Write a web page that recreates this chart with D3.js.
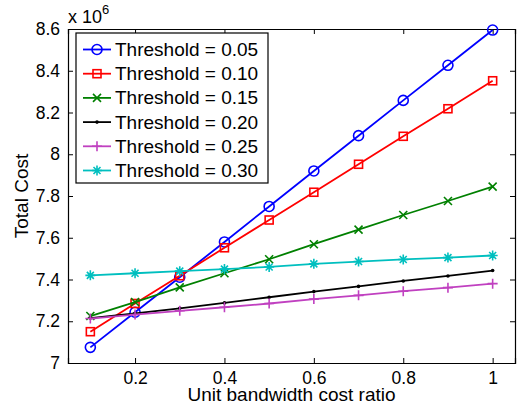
<!DOCTYPE html>
<html>
<head>
<meta charset="utf-8">
<script src="https://cdn.jsdelivr.net/npm/d3@7"></script>
<style>
  body { margin: 0; background: #fff; }
  text { font-family: "Liberation Sans", Arial, sans-serif; fill: #000; }
</style>
</head>
<body>
<div id="chart"></div>
<script>
// data (values in units of 10^6)
var ratios = [0.1, 0.2, 0.3, 0.4, 0.5, 0.6, 0.7, 0.8, 0.9, 1.0];
var thresholds = ["0.05", "0.10", "0.15", "0.20", "0.25", "0.30"];
var cost005 = [7.075, 7.243, 7.411, 7.580, 7.750, 7.920, 8.089, 8.258, 8.426, 8.595];
var cost010 = [7.150, 7.285, 7.418, 7.552, 7.685, 7.818, 7.952, 8.086, 8.218, 8.352];
var cost015 = [7.225, 7.292, 7.362, 7.430, 7.497, 7.569, 7.639, 7.709, 7.776, 7.845];
var cost020 = [7.215, 7.238, 7.262, 7.288, 7.315, 7.342, 7.367, 7.393, 7.417, 7.443];
var cost025 = [7.213, 7.232, 7.250, 7.267, 7.285, 7.306, 7.324, 7.344, 7.361, 7.380];
var cost030 = [7.420, 7.430, 7.440, 7.450, 7.460, 7.475, 7.486, 7.496, 7.505, 7.515];
var xTicks = [0.2, 0.4, 0.6, 0.8, 1];
var yTicks = [7, 7.2, 7.4, 7.6, 7.8, 8, 8.2, 8.4, 8.6];

var allSeries = [cost005, cost010, cost015, cost020, cost025, cost030];
var colors = ["#0000ff", "#ff0000", "#008000", "#000000", "#c040c0", "#00bfbf"];
var markers = ["circle", "square", "x", "dot", "plus", "star"];

var W = 524, H = 410;
var margin = {top: 29, right: 9, bottom: 47, left: 68};
var width = W - margin.left - margin.right;
var height = H - margin.top - margin.bottom;

var svg = d3.select("#chart").append("svg")
    .attr("width", W).attr("height", H);

var x = d3.scaleLinear().domain([0.05, 1.05]).range([0, width]);
var y = d3.scaleLinear().domain([7, 8.6]).range([height, 0]);

var g = svg.append("g")
    .attr("transform", "translate(" + margin.left + "," + margin.top + ")");

// axes with inward ticks, box on all sides
var tickFmt = d3.format("");
g.append("g")
    .attr("transform", "translate(0," + height + ")")
    .call(d3.axisBottom(x).tickValues(xTicks).tickSize(-5).tickPadding(8.5).tickFormat(tickFmt));
g.append("g")
    .call(d3.axisTop(x).tickValues(xTicks).tickSize(-5).tickFormat(""));
g.append("g")
    .call(d3.axisLeft(y).tickValues(yTicks).tickSize(-5).tickPadding(8).tickFormat(tickFmt));
g.append("g")
    .attr("transform", "translate(" + width + ",0)")
    .call(d3.axisRight(y).tickValues(yTicks).tickSize(-5).tickFormat(""));

g.selectAll(".domain").attr("stroke", "#000").attr("stroke-width", 1.2);
g.selectAll(".tick line").attr("stroke", "#000");
g.selectAll(".tick text").style("font-size", "17.5px").style("font-family", "Liberation Sans, Arial, sans-serif");

// multiplier
var mult = svg.append("text").attr("x", 68).attr("y", 23).style("font-size", "18px");
mult.append("tspan").text("x 10");
mult.append("tspan").attr("dy", -9).style("font-size", "13px").text("6");

// axis labels
svg.append("text")
    .attr("x", margin.left + width / 2).attr("y", 401)
    .attr("text-anchor", "middle").style("font-size", "19px")
    .text("Unit bandwidth cost ratio");
svg.append("text")
    .attr("transform", "translate(28," + (margin.top + height / 2) + ") rotate(-90)")
    .attr("text-anchor", "middle").style("font-size", "19px")
    .text("Total Cost");

function drawMarker(sel, type, color) {
    if (type == "circle") {
        sel.append("circle").attr("r", 5).attr("fill", "none").attr("stroke", color).attr("stroke-width", 1.6);
    } else if (type == "square") {
        sel.append("rect").attr("x", -4).attr("y", -4).attr("width", 8).attr("height", 8)
            .attr("fill", "none").attr("stroke", color).attr("stroke-width", 1.6);
    } else if (type == "x") {
        sel.append("path").attr("d", "M-4,-4L4,4M-4,4L4,-4").attr("stroke", color).attr("stroke-width", 1.6);
    } else if (type == "dot") {
        sel.append("circle").attr("r", 1.8).attr("fill", color);
    } else if (type == "plus") {
        sel.append("path").attr("d", "M-5,0L5,0M0,-5L0,5").attr("stroke", color).attr("stroke-width", 1.6);
    } else if (type == "star") {
        sel.append("path").attr("d", "M-5,0L5,0M0,-5L0,5M-3.5,-3.5L3.5,3.5M-3.5,3.5L3.5,-3.5")
            .attr("stroke", color).attr("stroke-width", 1.6);
    }
}

var line = d3.line()
    .x(function(d, i) { return x(ratios[i]); })
    .y(function(d) { return y(d); });

allSeries.forEach(function(vals, s) {
    g.append("path")
        .datum(vals)
        .attr("fill", "none")
        .attr("stroke", colors[s])
        .attr("stroke-width", 1.8)
        .attr("d", line);
    g.selectAll(".m" + s)
        .data(vals)
        .join("g")
        .attr("class", "m" + s)
        .attr("transform", function(d, i) { return "translate(" + x(ratios[i]) + "," + y(d) + ")"; })
        .each(function() { drawMarker(d3.select(this), markers[s], colors[s]); });
});

// legend
var legend = svg.append("g").attr("transform", "translate(76,33)");
legend.append("rect").attr("width", 192).attr("height", 150)
    .attr("fill", "#fff").attr("stroke", "#000").attr("stroke-width", 1.2);
thresholds.forEach(function(t, i) {
    var row = legend.append("g").attr("transform", "translate(0," + (16.5 + i * 24.2) + ")");
    row.append("line").attr("x1", 7).attr("x2", 35).attr("stroke", colors[i]).attr("stroke-width", 1.8);
    var mk = row.append("g").attr("transform", "translate(21,0)");
    drawMarker(mk, markers[i], colors[i]);
    row.append("text").attr("x", 39).attr("y", 6.5).style("font-size", "19px")
        .text("Threshold = " + t);
});
</script>
</body>
</html>
